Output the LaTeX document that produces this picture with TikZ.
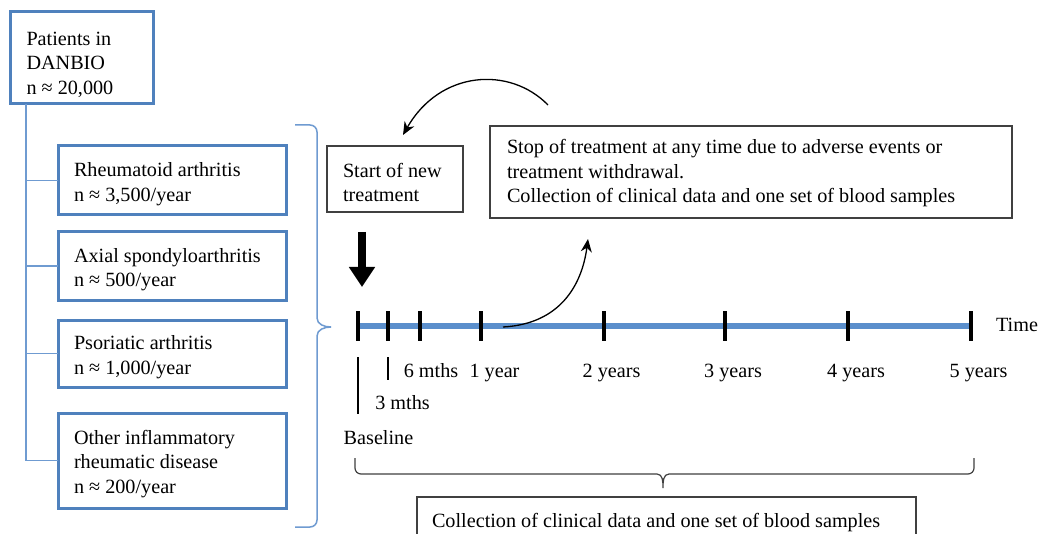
\documentclass[tikz,border=0pt]{standalone}
\usepackage{fontspec}
\setmainfont{Liberation Serif}
\usetikzlibrary{arrows.meta,calc}
\definecolor{boxblue}{HTML}{4F81BD}
\definecolor{lineblue}{HTML}{6F9BD1}
\definecolor{timeblue}{HTML}{5B8FCC}
\definecolor{darkline}{HTML}{404040}
\tikzset{
  txt/.style={font=\fontsize{20.2}{24.5}\selectfont, inner sep=0pt, outer sep=0pt},
  btxt/.style={txt, anchor=west, align=left},
  bluebox/.style={draw=boxblue, line width=3pt, inner sep=0pt, outer sep=0pt},
  greybox/.style={draw=darkline, line width=1.3pt, inner sep=0pt, outer sep=0pt},
  tree/.style={draw=lineblue, line width=1.6pt},
  tick/.style={line width=3.5pt, black},
  thin/.style={line width=1.2pt, black},
  lab/.style={txt, anchor=base},
  curvearrow/.style={line width=1.3pt, black, -{Stealth[length=13pt,width=11pt]}},
}
\begin{document}
\begin{tikzpicture}[x=1pt,y=-1pt]
\useasboundingbox (0,0) rectangle (1040,534);
\clip (0,0) rectangle (1040,534);
\fill[white] (0,0) rectangle (1040,534);

% left boxes
\node[bluebox, minimum width=143pt, minimum height=92pt] (pat) at (81.5,58) {};
\node[btxt] (patt) at ($(pat.west)+(16.5,6.5)$) {Patients in\\DANBIO\\n ≈ 20,000};
\node[bluebox, minimum width=228pt, minimum height=69pt] (ra) at (172,180.5) {};
\node[btxt] (rat) at ($(ra.west)+(16,3.5)$) {Rheumatoid arthritis\\n ≈ 3,500/year};
\node[bluebox, minimum width=228pt, minimum height=68pt] (ax) at (172,266) {};
\node[btxt] (axt) at ($(ax.west)+(16,3.5)$) {Axial spondyloarthritis\\n ≈ 500/year};
\node[bluebox, minimum width=228pt, minimum height=67pt] (ps) at (172,353.5) {};
\node[btxt] (pst) at ($(ps.west)+(16,3.5)$) {Psoriatic arthritis\\n ≈ 1,000/year};
\node[bluebox, minimum width=228pt, minimum height=95pt] (ot) at (172,460.5) {};
\node[btxt] (ott) at ($(ot.west)+(16,3.5)$) {Other inflammatory\\rheumatic disease\\n ≈ 200/year};

% tree connectors
\coordinate (trunk) at ($(pat.south west)+(16,0)$);
\draw[tree] (trunk) |- (ot.west);
\draw[tree] (trunk |- ra.west) -- (ra.west);
\draw[tree] (trunk |- ax.west) -- (ax.west);
\draw[tree] (trunk |- ps.west) -- (ps.west);

% blue brace
\draw[draw=lineblue, line width=1.5pt] (295,125) -- (310,125) to[out=0,in=90] (317,132) -- (317,318) to[out=-90,in=180] (331,327) to[out=180,in=90] (317,336) -- (317,520) to[out=-90,in=0] (310,527) -- (295,527);

% right boxes
\node[greybox, minimum width=136pt, minimum height=66pt] (start) at (395,179) {};
\node[btxt] (startt) at ($(start.west)+(16,3.5)$) {Start of new\\treatment};
\node[greybox, minimum width=522pt, minimum height=92pt] (stop) at (751,172) {};
\node[btxt] (stopt) at ($(stop.west)+(17,1.5)$) {Stop of treatment at any time due to adverse events or\\treatment withdrawal.\\Collection of clinical data and one set of blood samples};
\node[greybox, minimum width=499pt, minimum height=48pt] (coll) at (666.5,521) {};
\node[lab, anchor=base west] (collt) at (432,527) {Collection of clinical data and one set of blood samples};

% timeline
\coordinate (t0) at (358,326);
\coordinate (t3m) at (388,326);
\coordinate (t6m) at (420,326);
\coordinate (t1) at (481,326);
\coordinate (t2) at (604,326);
\coordinate (t3) at (725,326);
\coordinate (t4) at (848,326);
\coordinate (t5) at (971,326);
\draw[timeblue, line width=6pt] (t0) -- (t5);
\foreach \t in {t0,t3m,t6m,t1,t2,t3,t4,t5}
  \draw[tick] ($(\t)+(0,-15)$) -- ($(\t)+(0,15)$);

\node[lab] (time) at (1017,331) {Time};
\node[lab] (l6m) at (431,377) {6 mths};
\node[lab] (l1) at (494.5,377) {1 year};
\node[lab] (l2) at (611.5,377) {2 years};
\node[lab] (l3) at (733,377) {3 years};
\node[lab] (l4) at (856,377) {4 years};
\node[lab] (l5) at (978.5,377) {5 years};
\node[lab] (l3m) at (402.5,409) {3 mths};
\node[lab] (lbase) at (378.5,444) {Baseline};

\draw[thin] ($(t3m)+(0,31)$) -- ($(t3m)+(0,54)$);
\draw[thin] ($(t0)+(0,31)$) -- ($(t0)+(0,88)$);

% thick down arrow
\coordinate (dA) at (362,232);
\coordinate (dB) at (362,287);
\draw[line width=8.5pt, -{Triangle[length=20pt,width=25pt]}] (dA) -- (dB);

% curved arrows
\coordinate (c1s) at (548,105);
\coordinate (c1e) at (403,135);
\draw[curvearrow] (c1s) .. controls (510,66) and (440,70) .. (c1e);
\coordinate (c2s) at (503,327);
\coordinate (c2e) at (588,239);
\draw[curvearrow] (c2s) .. controls (560,324) and (582,285) .. (c2e);

% bottom brace
\draw[darkline, line width=1.2pt] (355,458) -- (355,468) to[out=-90,in=180] (361,474) -- (657,474) to[out=0,in=90] (663,488) to[out=90,in=180] (669,474) -- (968,474) to[out=0,in=-90] (974,468) -- (974,458);
\end{tikzpicture}
\end{document}
